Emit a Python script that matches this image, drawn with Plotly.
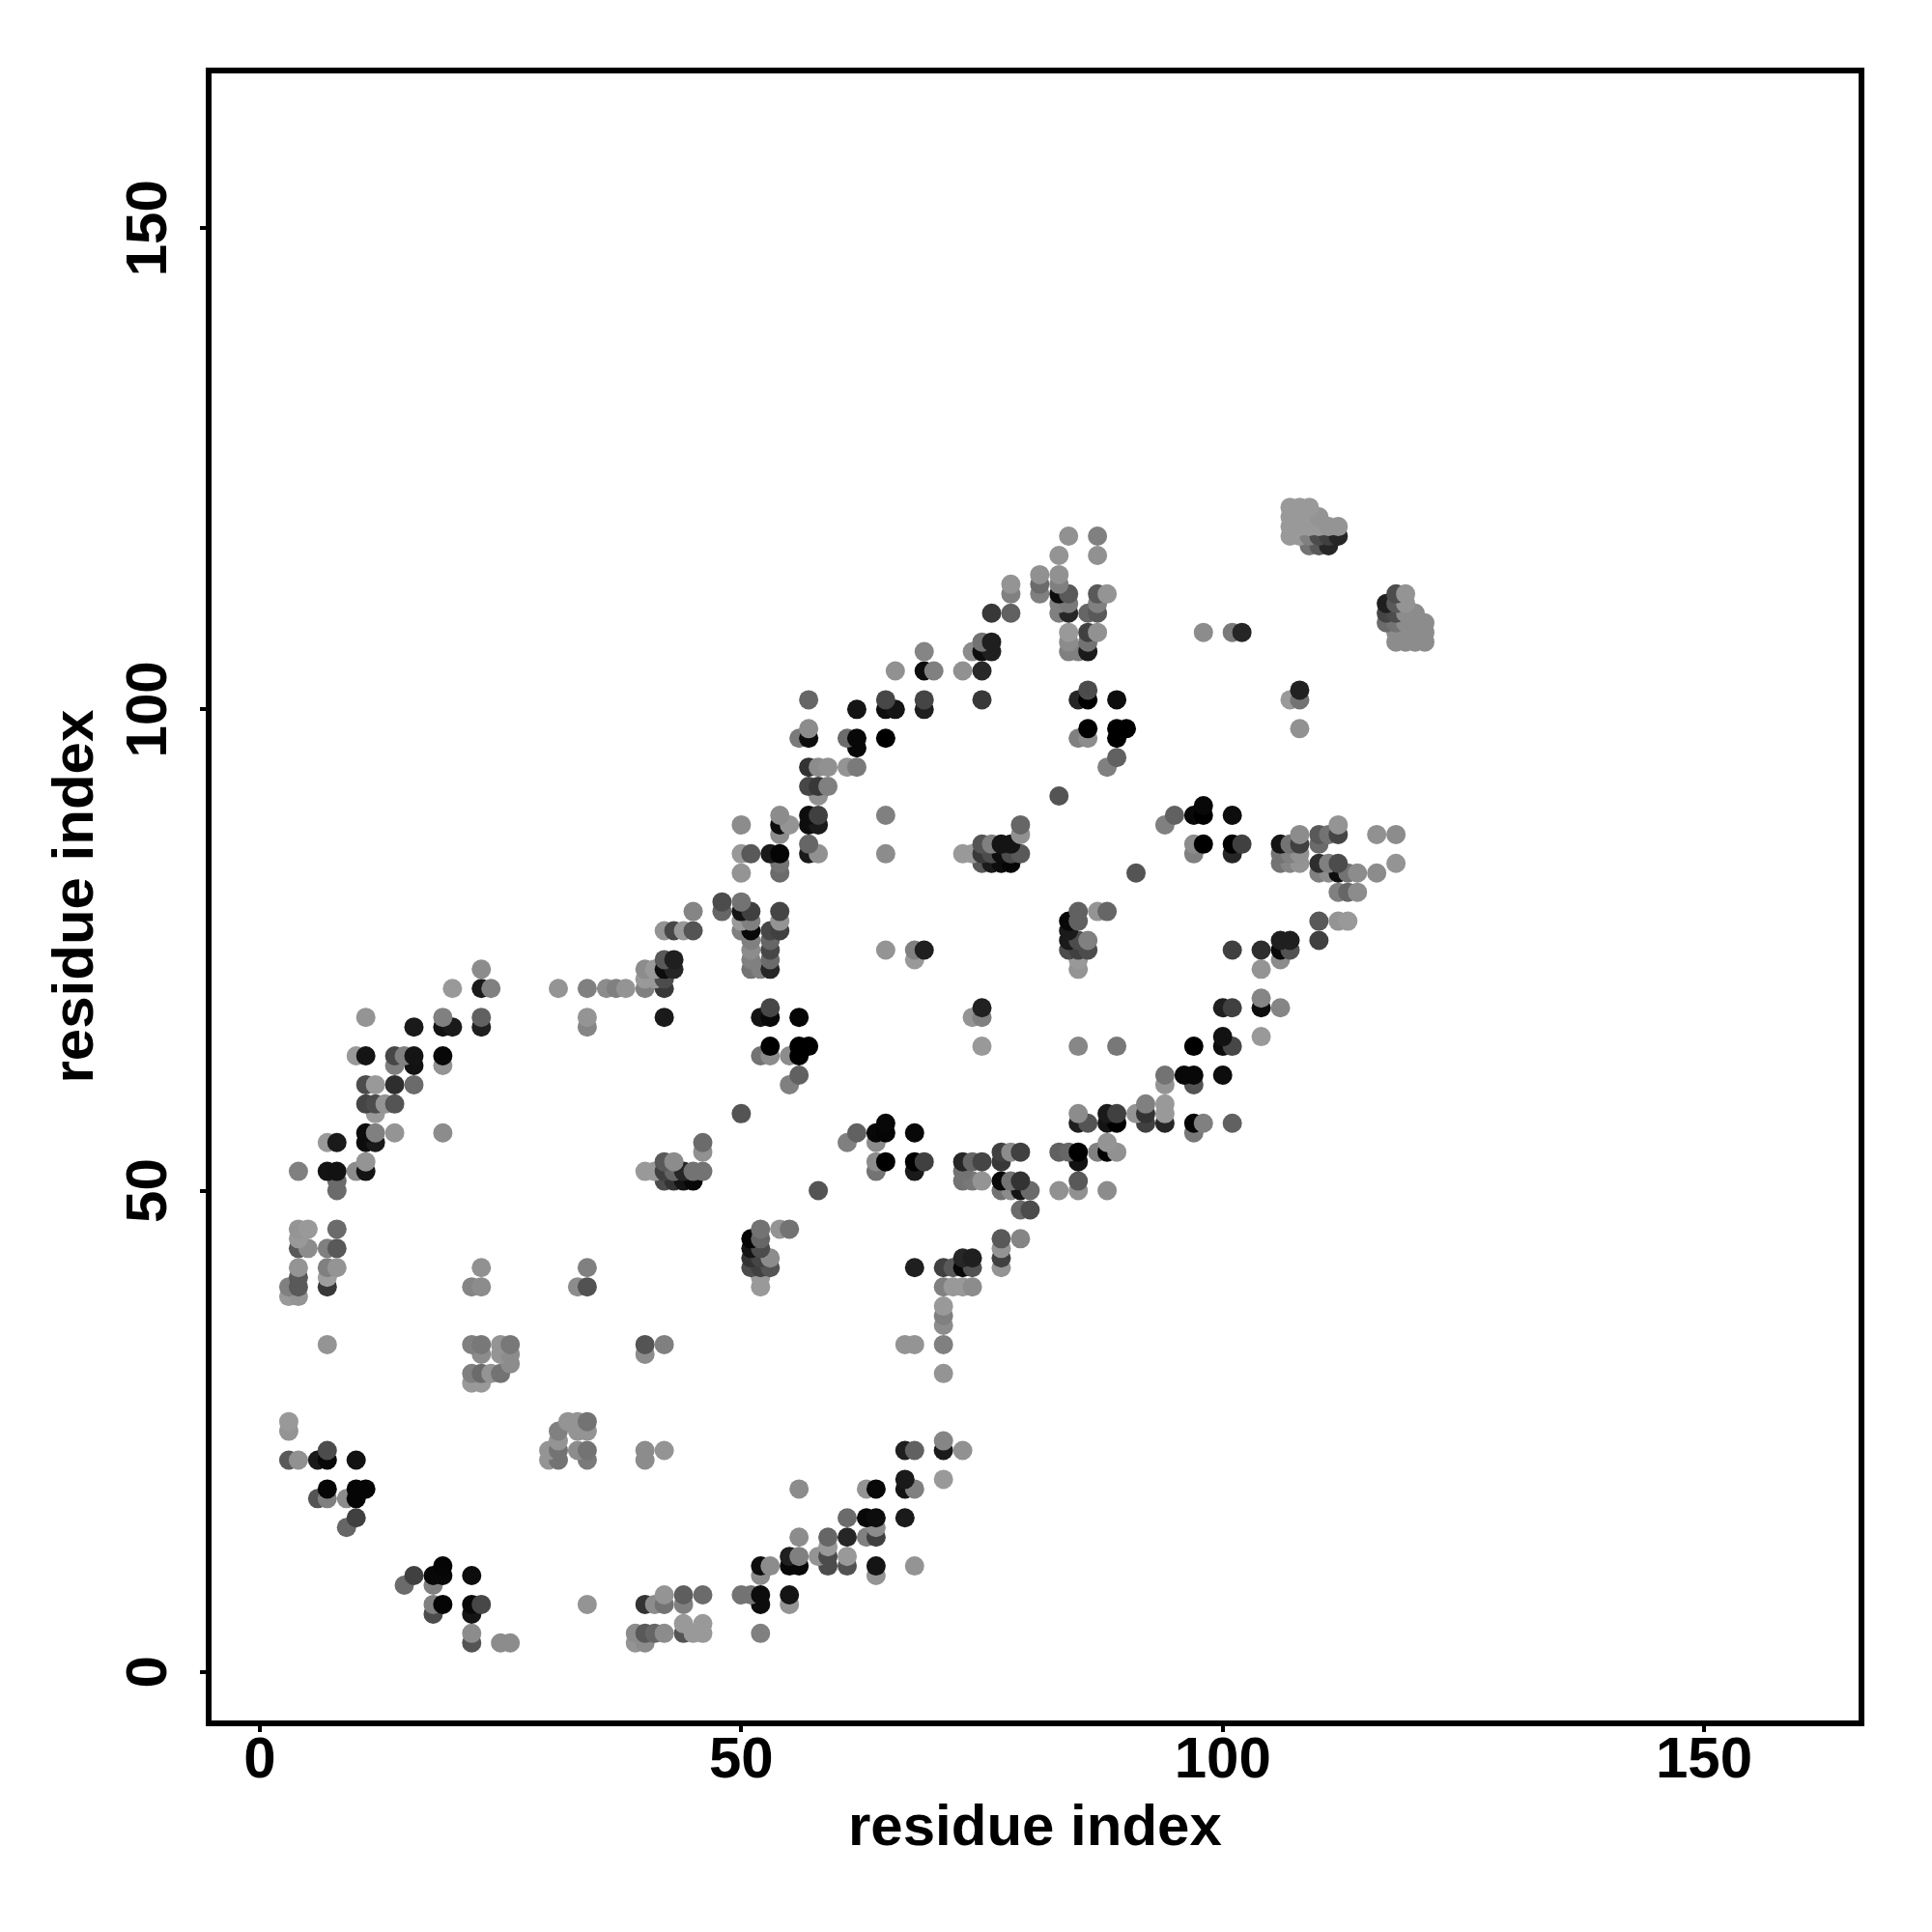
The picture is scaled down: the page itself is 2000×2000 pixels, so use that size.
import plotly.graph_objects as go

row_y = [3,4,5,6,7,8,9,10,11,12,13,14,15,16,18,19,20,22,23,24,25,26,30,31,32,33,34,36,37,38,39,40,41,42,43,44,45,46,48,50,51,52,53,54,55,56,57,58,59,61,62,63,64,65,66,67,68,69,70,71,72,73,74,75,76,77,78,79,80,81,83,84,85,86,87,88,89,90,91,92,94,95,96,97,98,100,101,102,104,106,107,108,109,110,111,112,113,114,116,117,118,119,120,121]

row_x = [
[22,25,26,39,40],
[22,39,40,41,42,44,45,46,52],
[44,46],
[18,22],
[18,19,22,23,34,40,41,42,44,52,55],
[42,44,46,50,51,52,55],
[15,18],
[16,18,19,22,52,64],
[19,52,53,55,56,59,61,64,68],
[55,56,58,59,61],
[59],
[56,59,61,63,64],
[9,64],
[10,61,63,64,67],
[6,7,9,10],
[7,10,11,56,63,64,67,68],
[67,71],
[3,4,6,7,10,30,31,34,40],
[7,30,31,33,34,40,42,67,68,71,73],
[31,71],
[3,31,33,34],
[3,32,33,34],
[22,23],
[22,23,24,25,71],
[26],
[23,25,26,40],
[7,22,23,25,26,40,42,67,68,71],
[71],
[71],
[71],
[3,4],
[3,4,7,22,23,33,34,52,71,72,73,74],
[4,7,52],
[4,7,8,23,34,51,52,53,68,71,72,73,74,77],
[51,52,53,73,74,77],
[4,5,7,8,51,52,77],
[4,51,52,77,79],
[4,5,8,52,54,55],
[79,80],
[8,58,77,78,79,80,83,85,88],
[8,42,43,44,45,73,74,75,77,78,79,85],
[4,7,8,10,11,40,41,42,43,44,45,46,64,68,73],
[11,42,43,64,65,68,69,73,74,75,77,85],
[46,77,78,79,83,84,85,87,88,89],
[7,8,11,12,46,61,64,88],
[11,12,14,19,62,64,65,68,97],
[65,85,86,88,89,92,94,97,98,101],
[12,50,85,88,89,91,92,94],
[11,12,13,14,92,94],
[11,12,14,16,55,94,97],
[56,94,96,97,100],
[14,16,19],
[10,11,14,15,16,19,52,53,55,56],
[53,56,57,75,85,89,97,100,101],
[100,104],
[16,19,20,23,34],
[11,19,23,34,42,52,53,56,74,75],
[53,75,100,101,104,106],
[104],
[20,23,24,31,34,36,37,38,40,42],
[40,41,42],
[23,40,41,42,43,51,52,53,85,104],
[42,43,51,53,68,85,106],
[51,53,65,68,69,84,85,86,101,104,106,107],
[51,53,84,85,86,106,107,110],
[42,43,44,45,50,51,53,54,84],
[50,51,54,84,85,110,112,113],
[45,48,50,51,54,85,87,88],
[48,50],
[112,113,114],
[50,54,91,110,111,112,113,114,116],
[54,75,76,77,78,106,107,108,110,111,112,118],
[50,51,53,54,57,58,65,73,74,75,76,77,78,79,97,101,106,107,108],
[57,75,76,77,78,97,98,101,102,106,107,108,110],
[54,79,108,110,111,112,116,118],
[50,54,55,57,58,79,94,112],
[54,57,58,65,95,97,98,101],
[98],
[58,83],
[57,58,59],
[57,58,59,61,62,88],
[89],
[62],
[56,57,61,62,65,85,86,89],
[57,86,89,90,108],
[62,65,66,69],
[57,65,69,75,85,86,89,107,108],
[86,108],
[66,69,70,73,75],
[69,74,75,76,84,85,86],
[75,76,84,86,118,119,120,121],
[84,86,87,98,101,102,118,119,120,121],
[117,118,119,120,121],
[76,78,83,84,86,87,117,118,119,120],
[83,84,87,117,118,119],
[78,81,83,84,87,88,118,119],
[78,81,83],
[81,83],
[83,87],
[109,110,111],
[84,87,107,108,109,110,111,112],
[107,108,109,110,111,112],
[107,108,109,110],
[107,108,109],
]

row_shade = [
[.33,.55,.55,.58,.55],
[.55,.55,.35,.4,.55,.33,.6,.6,.5],
[.6,.6],
[.3,.08],
[.5,.02,.03,.28,.58,.2,.55,.45,.5,.05,.58],
[.58,.37,.42,.45,.45,.05,.08],
[.42,.5],
[.25,.03,.03,.05,.55,.58],
[.02,.05,.55,.03,.03,.3,.32,.08,.58],
[.12,.5,.58,.3,.6],
[.6],
[.55,.4,.15,.5,.25],
[.4,.55],
[.25,.42,.03,.05,.1],
[.33,.5,.55,.02],
[.02,.02,.02,.55,.58,.03,.08,.5],
[.1,.6],
[.35,.57,.1,.03,.07,.58,.45,.48,.55],
[.3,.58,.45,.55,.45,.55,.58,.12,.38,.1,.57],
[.58,.52],
[.58,.5,.58,.58],
[.6,.58,.58,.45],
[.6,.6],
[.5,.42,.58,.45,.58],
[.55],
[.55,.58,.55,.55],
[.58,.5,.47,.58,.47,.33,.5,.58,.58,.5],
[.55],
[.5],
[.6],
[.6,.58],
[.5,.35,.22,.52,.55,.55,.32,.6,.5,.6,.6,.55],
[.35,.62,.6],
[.58,.5,.58,.57,.5,.3,.25,.33,.12,.25,.35,.03,.32,.58],
[.2,.27,.55,.15,.12,.25],
[.35,.55,.5,.35,.08,.3,.58],
[.6,.02,.4,.35,.52],
[.58,.6,.42,.45,.58,.45],
[.42,.3],
[.42,.33,.45,.55,.08,.42,.57,.57,.55],
[.42,.3,.2,.08,.03,.45,.47,.58,.03,.45,.2,.35],
[.5,.08,.07,.55,.08,.6,.6,.25,.4,.15,.45,.45,.45,.1,.45],
[.58,.35,.55,.55,.0,.0,.25,.15,.4,.27,.22,.07],
[.57,.25,.55,.25,.38,.4,.0,.5,.0,.57],
[.6,.1,.05,.1,.42,.5,.55,.58],
[.05,.5,.58,.55,.38,.03,.02,.03,.47],
[.03,.12,.33,.08,.0,.25,.15,.02,.5,.38],
[.6,.33,.55,.1,.25,.58,.2,.6],
[.27,.3,.58,.33,.5,.6],
[.3,.6,.18,.42,.5,.58,.33],
[.38,.45,.03,.03,.05],
[.5,.07,.58],
[.6,.08,.28,.5,.08,.03,.45,.55,.55,.0],
[.0,.0,.0,.6,.53,.47,.0,.05,.28],
[.07,.6],
[.1,.07,.1,.12,.52],
[.58,.5,.38,.58,.1,.08,.03,.02,.58,.5],
[.28,.13,.12,.25,.05,.52],
[.52],
[.6,.1,.5,.58,.5,.55,.5,.58,.5,.22],
[.6,.6,.3],
[.55,.55,.6,.05,.15,.45,.5,.15,.58,.58],
[.35,.12,.5,.42,.6,.6,.55],
[.55,.28,.58,.5,.12,.3,.25,.3,.25,.18,.03,.32],
[.5,.4,.1,.3,.5,.12,.12,.25],
[.58,.28,.6,.33,.5,.03,.28,.25,.1],
[.6,.5,.58,.03,.38,.35,.58,.6],
[.52,.4,.08,.25,.27,.38,.58,.4],
[.3,.45],
[.5,.4,.55],
[.58,.42,.33,.5,.55,.05,.45,.55,.55],
[.45,.35,.1,.05,.02,.45,.52,.58,.18,.5,.3,.58],
[.6,.35,.1,.02,.1,.57,.55,.6,.6,.22,.3,.05,.3,.35,.5,.15,.45,.5,.57],
[.4,.33,.5,.08,.08,.55,.0,.0,.25,.08,.45,.25,.42],
[.55,.57,.55,.35,.45,.27,.57,.55],
[.55,.05,.58,.05,.1,.4,.5,.58],
[.55,.05,.25,.5,.38,.03,.0,.05],
[.03],
[.57,.33],
[.28,.22,.5],
[.2,.55,.57,.58,.48,.5],
[.38],
[.03],
[.48,.05,.42,.03,.0,.5,.55,.0],
[.55,.0,.0,.0,.57],
[.08,.05,.08,.12],
[.4,.28,.27,.22,.15,.0,.05,.6,.45],
[.3,.13],
[.57,.05,.5,.57,.16],
[.52,.55,.05,.12,.5,.5,.1],
[.45,.12,.55,.45,.55,.55,.55,.55],
[.6,.25,.57,.55,.48,.15,.55,.55,.55,.55],
[.42,.45,.55,.55,.55],
[.22,.38,.5,.15,.4,.35,.27,.3,.55,.55],
[.5,.48,.5,.12,.35,.58],
[.5,.5,.05,.35,.35,.58,.3,.58],
[.58,.42,.5],
[.57,.57],
[.58,.57],
[.45,.35,.15],
[.57,.5,.6,.6,.5,.3,.25,.15],
[.6,.6,.6,.6,.58,.58],
[.6,.6,.6,.58],
[.6,.6,.6],
]

tick_vals = [0, 50, 100, 150]
axis_label = "residue index"

xs, ys, colors = [], [], []
for y, row, shade in zip(row_y, row_x, row_shade):
    assert len(row) == len(shade), y
    for x, g in zip(row, shade):
        v = round(g * 255)
        xs.append(x); ys.append(y); colors.append(f"rgb({v},{v},{v})")

tick_font = dict(family="Liberation Sans", size=60, color="black", weight="bold")
axis = dict(tickvals=tick_vals, ticks="outside", ticklen=6, tickwidth=3.5,
            tickcolor="black", showline=True, linewidth=6, linecolor="black", mirror=True,
            showgrid=False, zeroline=False, tickfont=tick_font)

fig = go.Figure(go.Scatter(x=xs, y=ys, mode="markers", marker=dict(size=20, color=colors, line=dict(width=0)),
                           showlegend=False))
fig.update_layout(width=2000, height=2000, paper_bgcolor="white", plot_bgcolor="white",
                  margin=dict(l=211.3, r=83.7, t=67.7, b=227, autoexpand=False),
                  xaxis=dict(axis, range=[-5.02, 166.05], ticklabelstandoff=-25),
                  yaxis=dict(axis, tickangle=-90, range=[-5.05, 166.08], ticklabelstandoff=11, ticklabelshift=9),
                  annotations=[
                      dict(text=axis_label, xref="paper", yref="paper", x=0.5, y=0, yshift=-108, showarrow=False,
                           xanchor="center", yanchor="middle", font=tick_font),
                      dict(text=axis_label, xref="paper", yref="paper", x=0, y=0.5, xshift=-144, showarrow=False,
                           textangle=-90, xanchor="center", yanchor="middle", font=tick_font),
                  ])
fig.write_html("out.html")
